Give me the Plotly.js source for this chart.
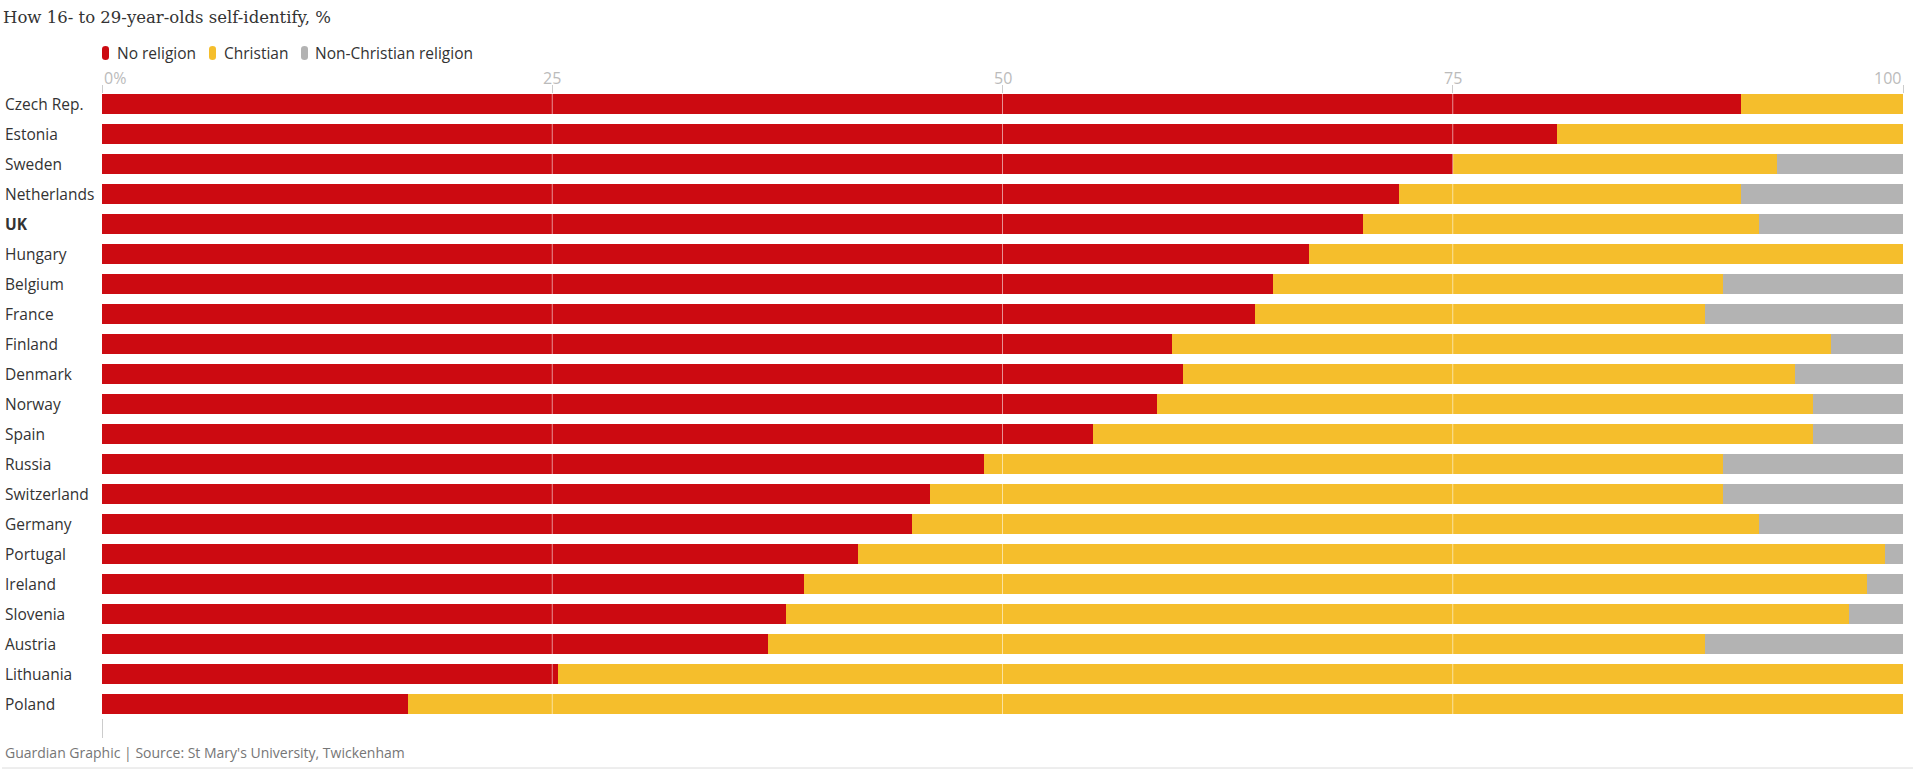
<!DOCTYPE html>
<html>
<head>
<meta charset="utf-8">
<script src="https://cdn.plot.ly/plotly-3.0.1.min.js"></script>
<style>
    html, body { margin: 0; padding: 0; background: #fff; }
    #chart { width: 1913px; height: 771px; }
</style>
</head>
<body>
<div id="chart"></div>
<script>
// Values, % of 16- to 29-year-olds
const countries = ["Czech Rep.", "Estonia", "Sweden", "Netherlands", "UK", "Hungary", "Belgium", "France",
    "Finland", "Denmark", "Norway", "Spain", "Russia", "Switzerland", "Germany", "Portugal", "Ireland",
    "Slovenia", "Austria", "Lithuania", "Poland"];
const noReligion   = [91, 80.8, 75, 72, 70, 67, 65, 64, 59.4, 60, 58.6, 55, 49, 46, 45, 42, 39, 38, 37, 25.3, 17];
const christian    = [9, 19.2, 18, 19, 22, 33, 25, 25, 36.6, 34, 36.4, 40, 41, 44, 47, 57, 59, 59, 52, 74.7, 83];
const nonChristian = [0, 0, 7, 9, 8, 0, 10, 11, 4, 6, 5, 5, 10, 10, 8, 1, 2, 3, 11, 0, 0];

const seriesNames  = ["No religion", "Christian", "Non-Christian religion"];
const seriesValues = [noReligion, christian, nonChristian];
const seriesColors = ["#cc0a11", "#f5be2c", "#b3b3b3"];

const tickValues = [0, 25, 50, 75, 100];
const tickLabels = ["0%", "25", "50", "75", "100"];

const highlight = "UK";

// Page geometry
const W = 1913, H = 771;
const margin = { l: 102, r: 10, t: 94, b: 33 };
const plotW = W - margin.l - margin.r;
const plotH = H - margin.t - margin.b;
const rowPx = 30;
const bargap = 1 / 3;
// top of the range sits on the top edge of the first bar
const yTop = -0.5 + bargap / 2;
const yBottom = yTop + plotH / rowPx;

const sans = "Open Sans, Noto Sans, sans-serif";

const traces = seriesNames.map((name, i) => ({
    type: "bar",
    orientation: "h",
    name: name,
    y: countries,
    x: seriesValues[i],
    marker: { color: seriesColors[i], line: { width: 0 } },
    hovertemplate: "%{y}<br>" + name + ": %{x}%<extra></extra>",
    showlegend: false
}));

const annotations = [];
const shapes = [];

// Country labels, left aligned at the page edge
countries.forEach(c => {
    annotations.push({
        xref: "paper", yref: "y", x: 0, y: c, xshift: -(margin.l - 3),
        xanchor: "left", yanchor: "middle", showarrow: false,
        text: c === highlight ? "<b>" + c + "</b>" : c,
        font: { family: sans, size: 15.5, color: "#333" }
    });
});

// Tick labels along the top: first one left aligned, last one right aligned
tickValues.forEach((v, i) => {
    annotations.push({
        xref: "x", yref: "paper", x: v, y: 1, yshift: 16,
        xanchor: i === 0 ? "left" : (i === tickValues.length - 1 ? "right" : "center"),
        yanchor: "middle", showarrow: false,
        text: tickLabels[i],
        font: { family: sans, size: 16, color: "#bbb" }
    });
});

// Light lines drawn over the bars
tickValues.filter(v => v > 0 && v < 100).forEach(v => {
    shapes.push({
        type: "line", layer: "above", xref: "x", yref: "paper",
        x0: v, x1: v, y0: 0, y1: 1,
        line: { color: "rgba(255,255,255,0.55)", width: 1 }
    });
});

// Stub of the zero line under the last bar
shapes.push({
    type: "line", xref: "x", yref: "y",
    x0: 0, x1: 0, y0: countries.length - 0.5, y1: yBottom,
    line: { color: "#bbb", width: 1.5 }
});

// Legend: rounded pills plus labels
const legendMarkers = [0, 107, 199];
const legendTexts = [13, 120, 211];
const legendLift = 41;
seriesNames.forEach((name, i) => {
    const x = legendMarkers[i];
    const y0 = legendLift - 7, y1 = legendLift + 7;
    shapes.push({
        type: "path", xref: "paper", yref: "paper",
        xsizemode: "pixel", ysizemode: "pixel", xanchor: 0, yanchor: 1,
        path: `M${x},${y0 + 3} Q${x},${y0} ${x + 3.5},${y0} Q${x + 7},${y0} ${x + 7},${y0 + 3} ` +
              `L${x + 7},${y1 - 3} Q${x + 7},${y1} ${x + 3.5},${y1} Q${x},${y1} ${x},${y1 - 3} Z`,
        fillcolor: seriesColors[i], line: { width: 0 }
    });
    annotations.push({
        xref: "paper", yref: "paper", x: 0, y: 1, xshift: legendTexts[i], yshift: legendLift,
        xanchor: "left", yanchor: "middle", showarrow: false,
        text: name,
        font: { family: sans, size: 15.5, color: "#333" }
    });
});

// Source line and bottom rule
annotations.push({
    xref: "paper", yref: "paper", x: 0, y: 0, xshift: -(margin.l - 3), yshift: -(752 - (H - margin.b)),
    xanchor: "left", yanchor: "middle", showarrow: false,
    text: "Guardian Graphic | Source: St Mary's University, Twickenham",
    font: { family: sans, size: 14, color: "#767676" }
});
shapes.push({
    type: "line", xref: "paper", yref: "paper",
    x0: -(margin.l - 2) / plotW, x1: 1 + margin.r / plotW,
    y0: -(768 - (H - margin.b)) / plotH, y1: -(768 - (H - margin.b)) / plotH,
    line: { color: "#dcdcdc", width: 1 }
});

const layout = {
    width: W,
    height: H,
    margin: margin,
    paper_bgcolor: "#fff",
    plot_bgcolor: "#fff",
    barmode: "stack",
    bargap: bargap,
    showlegend: false,
    title: {
        text: "How 16- to 29-year-olds self-identify, %",
        xref: "container", yref: "container",
        x: 3 / W, xanchor: "left",
        y: 1 - 17 / H, yanchor: "middle",
        font: { family: "DejaVu Serif, Liberation Serif, serif", size: 16.5, color: "#333" }
    },
    xaxis: {
        side: "top",
        range: [0, 100],
        tickvals: tickValues,
        showticklabels: false,
        ticks: "outside",
        ticklen: 8,
        tickcolor: "#ccc",
        tickwidth: 1,
        showgrid: false,
        zeroline: false,
        showline: false,
        fixedrange: true
    },
    yaxis: {
        type: "category",
        range: [yBottom, yTop],
        showticklabels: false,
        ticks: "",
        showgrid: false,
        zeroline: false,
        showline: false,
        fixedrange: true
    },
    annotations: annotations,
    shapes: shapes
};

Plotly.newPlot("chart", traces, layout, { displayModeBar: false, responsive: false });
</script>
</body>
</html>
